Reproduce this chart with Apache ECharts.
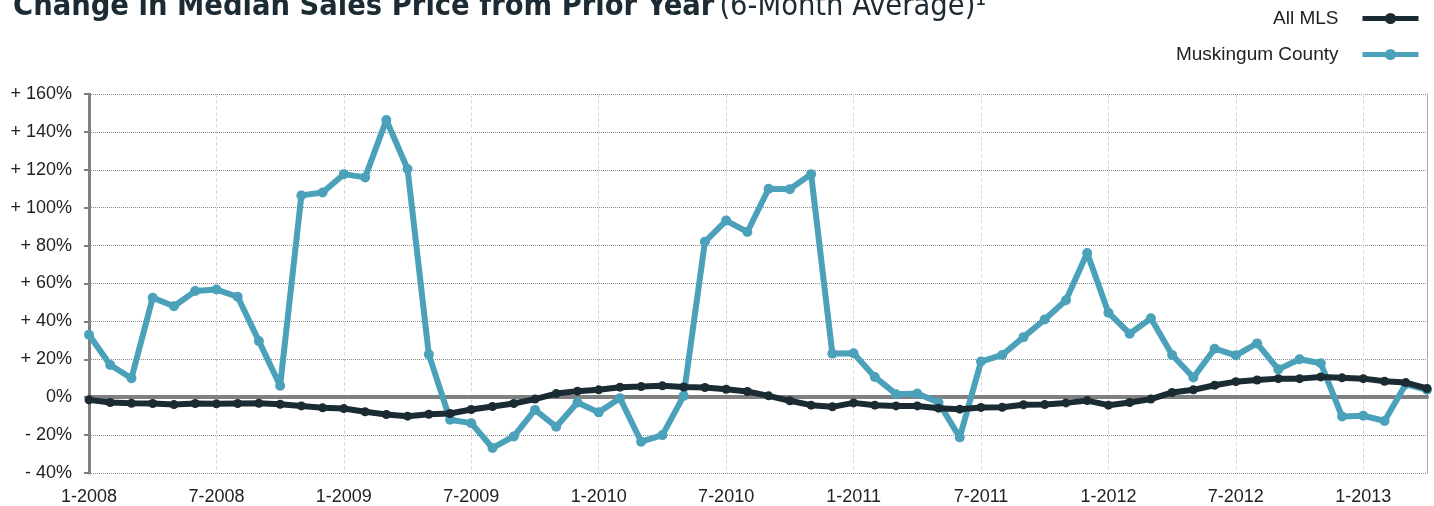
<!doctype html>
<html>
<head>
<meta charset="utf-8">
<title>Change in Median Sales Price</title>
<script src="https://cdn.jsdelivr.net/npm/echarts@6.0.0/dist/echarts.min.js"></script>
<style>
  html, body { margin: 0; padding: 0; background: #fff; }
  #main { width: 1434px; height: 506px; }
</style>
</head>
<body>
<div id="main"></div>
<script>
// months 1-2008 .. 4-2013
var months = [];
for (var y = 2008; y <= 2013; y++) {
  for (var m = 1; m <= 12; m++) {
    if (y === 2013 && m > 4) break;
    months.push(m + '-' + y);
  }
}

// All MLS, % change
var allMls = [
  -1.4, -2.8, -3.2, -3.3, -3.9, -3.3, -3.5, -3.3, -3.2, -3.7, -4.6, -5.6,
  -6.0, -7.7, -9.1, -10.0, -9.0, -8.6, -6.5, -4.9, -3.3, -1.0, 1.9, 3.2,
  3.9, 5.3, 5.6, 6.0, 5.4, 5.1, 4.2, 3.0, 0.7, -1.9, -4.2, -5.1,
  -3.0, -4.2, -4.6, -4.6, -5.8, -6.3, -5.4, -5.3, -4.0, -3.9, -3.0, -1.8,
  -4.2, -2.8, -1.0, 2.5, 3.9, 6.3, 8.2, 9.1, 9.8, 9.8, 10.7, 10.2,
  9.8, 8.4, 7.7, 4.6
];

// Muskingum County, % change
var muskingum = [
  33, 17, 10, 52.5, 48, 56, 56.8, 53, 29.6, 6, 106.5, 108,
  117.7, 116, 146.3, 120.4, 22.6, -11.9, -13.7, -26.8, -20.7, -6.7, -15.6, -2.8,
  -8, -0.5, -23.5, -20, 0.7, 82, 93.2, 87.2, 110, 109.8, 117.7, 23,
  23.2, 10.7, 1.6, 1.9, -2.8, -21.2, 18.8, 22.3, 31.7, 41, 51.2, 76.1,
  44.6, 33.5, 41.6, 22.3, 10.4, 25.6, 22.1, 28.4, 14.7, 20, 17.9, -10.2,
  -9.8, -12.5, 6.8, 3.9
];

var yTicks = { min: -40, max: 160, interval: 20 };

var condensed = '"Liberation Sans Narrow", "DejaVu Sans Condensed", sans-serif';
var sans = '"Liberation Sans", Arial, sans-serif';

var chart = echarts.init(document.getElementById('main'));
var option = {
  backgroundColor: '#fff',
  animation: false,
  title: {
    left: 13,
    top: -8,
    padding: 0,
    text: '{b|Change in Median Sales Price from Prior Year} {r|(6-Month Average)\u00b9}',
    textStyle: {
      rich: {
        b: { fontFamily: condensed, fontWeight: 'bold', fontSize: 30.5, color: '#1b2a33' },
        r: { fontFamily: condensed, fontWeight: 'normal', fontSize: 30.5, color: '#1b2a33' }
      }
    }
  },
  legend: {
    orient: 'vertical',
    right: 8,
    top: 4,
    align: 'right',
    itemWidth: 56,
    itemHeight: 14,
    itemGap: 17,
    lineStyle: { width: 5 },
    textStyle: { fontFamily: sans, fontSize: 19, color: '#222', padding: [0, 19, 0, 0] },
    data: ['All MLS', 'Muskingum County']
  },
  grid: { left: 89, right: 7, top: 94, bottom: 32 },
  xAxis: [{
    type: 'category',
    data: months,
    boundaryGap: false,
    axisLine: { show: false },
    axisTick: { show: false },
    axisLabel: {
      interval: 5,
      margin: 15,
      fontFamily: sans,
      fontSize: 18,
      color: '#222'
    },
    splitLine: { show: true, interval: 5, lineStyle: { color: '#ddd', type: 'dashed', width: 1 } }
  }, {
    // thick zero line
    type: 'category',
    data: months,
    boundaryGap: false,
    axisLine: { show: true, onZero: true, onZeroAxisIndex: 0, lineStyle: { color: '#808080', width: 4 } },
    axisTick: { show: false },
    axisLabel: { show: false },
    splitLine: { show: false }
  }],
  yAxis: [{
    type: 'value',
    min: yTicks.min,
    max: yTicks.max,
    interval: yTicks.interval,
    axisLine: { show: true, lineStyle: { color: '#808080', width: 3 } },
    axisTick: { show: true, length: 5, lineStyle: { color: '#808080', width: 2 } },
    axisLabel: {
      margin: 17,
      fontFamily: sans,
      fontSize: 18,
      color: '#222',
      formatter: function (v) {
        if (v > 0) return '+ ' + v + '%';
        if (v < 0) return '- ' + (-v) + '%';
        return '0%';
      }
    },
    splitLine: { show: true, lineStyle: { color: '#888', type: 'dotted', width: 1 } }
  }, {
    // dotted right border
    type: 'value',
    position: 'right',
    min: yTicks.min,
    max: yTicks.max,
    interval: yTicks.interval,
    axisLine: { show: true, lineStyle: { color: '#999', type: 'dotted', width: 1 } },
    axisTick: { show: false },
    axisLabel: { show: false },
    splitLine: { show: false }
  }],
  series: [{
    name: 'Muskingum County',
    type: 'line',
    data: muskingum,
    z: 3,
    color: '#4ba1b9',
    symbol: 'circle',
    symbolSize: 10,
    lineStyle: { width: 6, color: '#4ba1b9' },
    itemStyle: { color: '#4ba1b9' }
  }, {
    name: 'All MLS',
    type: 'line',
    data: allMls,
    z: 4,
    color: '#1b2b33',
    symbol: 'circle',
    symbolSize: 9,
    lineStyle: { width: 6, color: '#1b2b33' },
    itemStyle: { color: '#1b2b33' }
  }]
};
chart.setOption(option);
</script>
</body>
</html>
